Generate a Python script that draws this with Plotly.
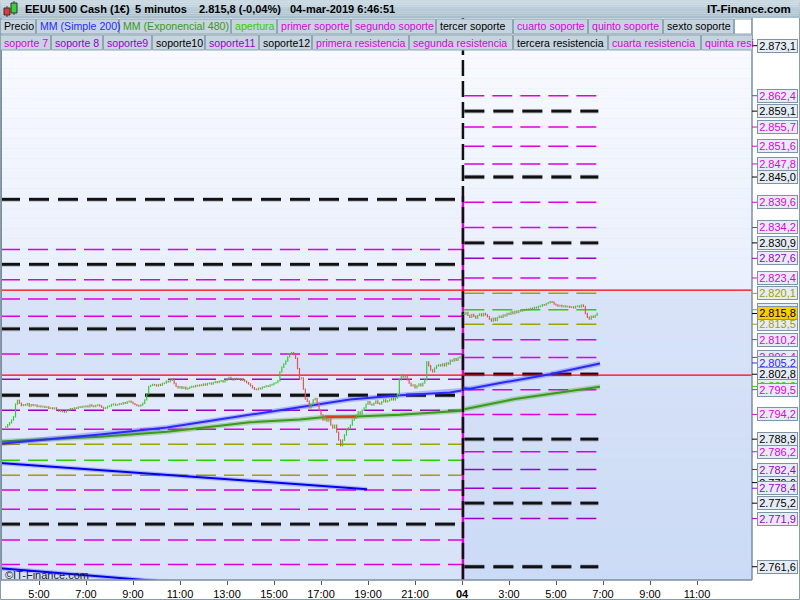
import plotly.graph_objects as go

# ---------------- data ----------------
DAY3_FIRST_BAR_HOUR = 3 + 35 / 60
DAY4_FIRST_BAR_HOUR = 1 + 5 / 60
BAR_HOURS = 5 / 60
DAY4_OFFSET = 22  # day-4 hour h is drawn at h + 22 (session gap compressed)

close_day3 = [
    2791.5, 2792.0, 2792.4, 2793.0, 2793.7, 2796.4, 2797.2, 2796.6, 2796.1, 2796.3,
    2796.2, 2796.5, 2796.0, 2796.3, 2796.1, 2796.2, 2795.9, 2796.0, 2795.8, 2795.9,
    2795.7, 2795.8, 2795.5, 2795.6, 2795.4, 2795.6, 2795.2, 2794.9, 2795.0, 2794.8,
    2794.7, 2795.0, 2795.2, 2795.4, 2795.3, 2795.6, 2795.5, 2795.8, 2795.7, 2795.9,
    2795.8, 2796.0, 2795.8, 2796.2, 2796.0, 2795.9, 2796.1, 2796.2, 2796.0, 2795.7,
    2795.5, 2795.6, 2795.9, 2796.0, 2796.3, 2796.4, 2796.2, 2796.3, 2796.5, 2796.4,
    2796.7, 2796.6, 2796.9, 2797.0, 2796.8, 2796.5, 2796.3, 2796.1, 2796.0, 2796.2,
    2796.6, 2797.3, 2798.6, 2800.2, 2800.4, 2800.6, 2800.5, 2800.3, 2800.6, 2800.4,
    2800.8, 2800.9, 2801.3, 2801.2, 2801.5, 2801.8, 2800.8, 2800.2, 2799.9, 2800.1,
    2799.8, 2800.0, 2799.6, 2799.8, 2800.0, 2800.2, 2800.1, 2800.4, 2800.3, 2800.5,
    2800.4, 2800.7, 2800.5, 2800.8, 2800.9, 2800.7, 2801.0, 2801.2, 2801.0, 2801.3,
    2801.4, 2801.2, 2801.5, 2801.7, 2802.1, 2801.8, 2801.6, 2801.9, 2801.7, 2801.8,
    2801.5, 2801.6, 2801.3, 2801.0, 2800.7, 2800.3, 2799.9, 2799.6, 2799.5, 2799.8,
    2799.7, 2800.0, 2800.1, 2800.3, 2800.2, 2800.5, 2800.6, 2800.9, 2801.0, 2801.4,
    2803.3, 2804.3, 2805.0, 2805.6, 2806.5, 2807.2, 2807.4, 2807.0, 2806.2, 2804.0,
    2801.8, 2802.0, 2799.6, 2797.5, 2797.0, 2795.6, 2796.3, 2797.3, 2797.6, 2796.6,
    2795.1, 2794.1, 2793.0, 2793.6, 2792.8, 2793.2, 2791.9, 2791.3, 2791.9, 2790.4,
    2788.7, 2787.5, 2788.7, 2789.8, 2790.9, 2791.3, 2791.9, 2793.0, 2793.4, 2794.1,
    2794.7, 2794.3, 2795.1, 2795.6, 2796.4, 2796.9, 2796.4, 2796.2, 2796.6, 2797.1,
    2796.6, 2796.4, 2796.9, 2797.3, 2796.9, 2797.1, 2797.3, 2797.7, 2797.3, 2797.7,
    2798.4, 2801.6, 2802.6, 2802.2, 2802.4, 2801.6, 2800.9, 2800.3, 2800.5, 2799.9,
    2800.3, 2800.7, 2800.3, 2800.9, 2801.6, 2805.4, 2804.6, 2803.7, 2803.3, 2804.1,
    2804.6, 2804.8, 2804.6, 2805.0, 2804.6, 2805.2, 2805.0, 2805.8, 2805.6, 2806.1,
    2805.8, 2806.3, 2806.5,
]

close_day4 = [
    2815.6, 2816.0, 2815.4, 2815.0, 2815.6, 2815.2, 2814.8, 2815.4, 2815.7, 2815.3,
    2815.8, 2815.5, 2815.1, 2814.6, 2814.2, 2814.8, 2814.3, 2814.9, 2815.2, 2815.0,
    2815.5, 2815.3, 2815.8, 2815.6, 2816.1, 2815.8, 2816.3, 2816.0, 2816.4, 2816.3,
    2816.6, 2816.5, 2816.7, 2816.6, 2816.9, 2816.8, 2817.1, 2817.0, 2817.3, 2817.4,
    2817.7, 2817.6, 2817.9, 2818.1, 2818.3, 2818.2, 2817.8, 2817.6, 2817.4, 2817.5,
    2817.3, 2817.4, 2817.2, 2817.3, 2817.1, 2817.2, 2817.0, 2817.3, 2817.4, 2817.2,
    2817.6, 2817.3, 2815.8, 2815.0, 2814.6, 2815.2, 2815.0, 2815.4, 2815.8,
]

# moving averages (hour of day, value)
sma200_hours_d3 = [3.3, 7.6, 10.45, 13.98, 16.1, 18.23, 20.36, 22.49, 22.98]
sma200_vals_d3 = [2787.9, 2789.9, 2791.4, 2794.1, 2795.8, 2797.4, 2798.3, 2798.9, 2799.3]
sma200_hours_d4 = [1.05, 1.34, 2.62, 4.74, 6.87]
sma200_vals_d4 = [2799.8, 2799.7, 2800.9, 2802.8, 2805.1]

ema480_hours_d3 = [3.3, 7.6, 10.45, 13.98, 16.1, 17.08, 18.23, 20.36, 22.49, 22.98]
ema480_vals_d3 = [2788.4, 2789.4, 2790.5, 2792.5, 2793.1, 2793.6, 2793.7, 2794.1, 2794.8, 2795.0]
ema480_hours_d4 = [1.1, 3.25, 6.87]
ema480_vals_d4 = [2795.3, 2797.5, 2800.1]
ema_red_hours = [17.15, 18.55]
ema_red_vals = [2793.7, 2793.7]

# drawn trend lines (hour on day 3, value)
trend1_hours = [3.3, 18.96]
trend1_vals = [2783.8, 2778.2]
trend2_hours = [3.3, 10.6]
trend2_vals = [2761.3, 2758.3]

# red horizontal lines
red_levels = [2820.8, 2802.6]

# support / resistance levels: (value, kind)
levels_day3 = [
    (2840.2, "k"), (2829.5, "m"), (2826.3, "k"), (2823.0, "m"), (2818.9, "m"),
    (2815.2, "m"), (2812.5, "k"), (2807.1, "m"), (2801.7, "p"), (2798.3, "k"),
    (2795.1, "p"), (2791.0, "m"), (2787.8, "o"), (2784.4, "g"), (2781.2, "o"),
    (2778.0, "m"), (2773.9, "m"), (2770.7, "k"), (2767.3, "m"), (2762.1, "m"),
]
levels_day4 = [
    (2873.1, "k"), (2862.4, "m"), (2859.1, "k"), (2855.7, "m"), (2851.6, "m"),
    (2847.8, "m"), (2845.0, "k"), (2839.6, "m"), (2834.2, "m"), (2830.9, "k"),
    (2827.6, "p"), (2823.4, "m"), (2820.1, "o"), (2816.6, "g"), (2813.5, "o"),
    (2810.2, "m"), (2806.4, "m"), (2802.8, "k"), (2799.5, "m"), (2794.2, "m"),
    (2788.9, "k"), (2786.2, "m"), (2782.4, "p"), (2778.4, "p"), (2775.2, "k"),
    (2771.9, "p"), (2761.6, "k"),
]

# right-axis value labels: (value, kind) ; drawn in order (later on top)
axis_labels = [
    (2873.1, "k"), (2862.4, "m"), (2859.1, "k"), (2855.7, "m"), (2851.6, "m"),
    (2847.8, "m"), (2845.0, "k"), (2839.6, "m"), (2834.2, "m"), (2830.9, "k"),
    (2827.6, "p"), (2823.4, "m"), (2820.1, "o"), (2816.6, "g"), (2813.5, "o"),
    (2810.2, "m"), (2806.4, "m"), (2805.2, "b"), (2802.8, "k"), (2800.2, "g"),
    (2799.5, "m"), (2794.2, "m"), (2788.9, "k"), (2786.2, "m"), (2779.6, "k"),
    (2782.4, "p"), (2778.4, "p"), (2775.2, "k"), (2771.9, "p"), (2761.6, "k"),
]
last_price = 2815.8

tick_vals = [5, 7, 9, 11, 13, 15, 17, 19, 21, 23, 25, 27, 29, 31, 33]
tick_text = ["5:00", "7:00", "9:00", "11:00", "13:00", "15:00", "17:00", "19:00",
             "21:00", "<b>04</b>", "3:00", "5:00", "7:00", "9:00", "11:00"]

legend_row1 = [("Precio", "k"), ("MM (Simple 200)", "b"), ("MM (Exponencial 480)", "e"),
               ("apertura", "g"), ("primer soporte", "m"), ("segundo soporte", "m"),
               ("tercer soporte", "k"), ("cuarto soporte", "m"), ("quinto soporte", "m"),
               ("sexto soporte", "k"), ("", "w")]
legend_row2 = [("soporte 7", "m"), ("soporte 8", "p"), ("soporte9", "p"), ("soporte10", "k"),
               ("soporte11", "p"), ("soporte12", "k"), ("primera resistencia", "m"),
               ("segunda resistencia", "m"), ("tercera resistencia", "k"),
               ("cuarta resistencia", "m"), ("quinta resi", "m")]

title_parts = ["EEUU 500 Cash (1€)", "5 minutos", "2.815,8 (-0,04%)", "04-mar-2019 6:46:51"]
brand = "IT-Finance.com"
copyright_text = "©IT-Finance.com"

# ---------------- layout / style ----------------
COL = {"k": "#000000", "m": "#dd00dd", "p": "#9a00c8", "o": "#a0a000", "g": "#33cc00",
       "b": "#2a2aff", "e": "#3a9a1a", "w": "#ffffff"}
legend_edges1 = [0, 36, 119, 231, 277, 351, 436, 513, 588, 663, 734, 752]
legend_edges2 = [0, 51, 103, 152, 205, 259, 312, 409, 513, 608, 701, 753]
title_x = [23, 133, 197, 288]

W_PLOT, TOP, BOT = 752, 18, 580
X_RANGE = [3.3404, 35.3404]
Y_RANGE = [2758.76, 2879.03]
T_SEP = 23.04
T_END4 = 28.8
FONT = "Liberation Sans"


def px(x):
    return x / W_PLOT


def py(y):
    return (BOT - y) / (BOT - TOP)


def fmt(v):
    s = f"{v:,.1f}"
    return s.replace(",", "X").replace(".", ",").replace("X", ".")


def lerp_col(c1, c2, f):
    return "rgb(%d,%d,%d)" % tuple(round(a + (b - a) * f) for a, b in zip(c1, c2))


fig = go.Figure()


def add_level(x0, x1, v, kind):
    if kind == "k":
        fig.add_trace(go.Scatter(x=[x0, x1], y=[v, v], mode="lines",
                                 line=dict(color="rgba(60,60,60,0.3)", width=4.5, dash="20px,9px"),
                                 hoverinfo="skip", showlegend=False))
        fig.add_trace(go.Scatter(x=[x0, x1], y=[v, v], mode="lines",
                                 line=dict(color="#111111", width=2.8, dash="20px,9px"),
                                 hoverinfo="skip", showlegend=False))
    else:
        fig.add_trace(go.Scatter(x=[x0, x1], y=[v, v], mode="lines",
                                 line=dict(color=COL[kind], width=1.5, dash="20px,8px"),
                                 hoverinfo="skip", showlegend=False))


for v, k in levels_day3:
    add_level(X_RANGE[0], T_SEP, v, k)
for v, k in levels_day4:
    add_level(T_SEP + 0.06, T_END4, v, k)

# separator (level jumps at the session change)
fig.add_trace(go.Scatter(x=[T_SEP, T_SEP], y=[2841, Y_RANGE[0]], mode="lines",
                         line=dict(color="#dd00dd", width=2.5), hoverinfo="skip", showlegend=False))
fig.add_trace(go.Scatter(x=[T_SEP, T_SEP], y=[Y_RANGE[1], Y_RANGE[0]], mode="lines",
                         line=dict(color="#111111", width=2.5, dash="16px,5px"),
                         hoverinfo="skip", showlegend=False))

# red lines
for v in red_levels:
    fig.add_trace(go.Scatter(x=X_RANGE, y=[v, v], mode="lines",
                             line=dict(color="#ff0000", width=1.3), hoverinfo="skip", showlegend=False))

# trend lines
for hs, vs in [(trend1_hours, trend1_vals), (trend2_hours, trend2_vals)]:
    fig.add_trace(go.Scatter(x=hs, y=vs, mode="lines", line=dict(color="rgba(40,40,255,0.25)", width=4.5),
                             hoverinfo="skip", showlegend=False))
    fig.add_trace(go.Scatter(x=hs, y=vs, mode="lines", line=dict(color="#0000ee", width=2),
                             hoverinfo="skip", showlegend=False))

# moving averages
for hs, vs, halo, col in [
    (ema480_hours_d3, ema480_vals_d3, "rgba(60,160,30,0.3)", "#3a9a1a"),
    ([h + DAY4_OFFSET for h in ema480_hours_d4], ema480_vals_d4, "rgba(60,160,30,0.3)", "#3a9a1a"),
    (sma200_hours_d3, sma200_vals_d3, "rgba(60,60,255,0.3)", "#2a2aff"),
    ([h + DAY4_OFFSET for h in sma200_hours_d4], sma200_vals_d4, "rgba(60,60,255,0.3)", "#2a2aff"),
]:
    fig.add_trace(go.Scatter(x=hs, y=vs, mode="lines", line=dict(color=halo, width=5),
                             hoverinfo="skip", showlegend=False))
    fig.add_trace(go.Scatter(x=hs, y=vs, mode="lines", line=dict(color=col, width=2),
                             hoverinfo="skip", showlegend=False))
fig.add_trace(go.Scatter(x=ema_red_hours, y=ema_red_vals, mode="lines",
                         line=dict(color="rgba(255,40,40,0.8)", width=3), hoverinfo="skip", showlegend=False))

# price bars (previous close -> close)
up_x, up_y, dn_x, dn_y = [], [], [], []
for closes, start, off in [(close_day3, DAY3_FIRST_BAR_HOUR, 0), (close_day4, DAY4_FIRST_BAR_HOUR, DAY4_OFFSET)]:
    prev = closes[0]
    for i, c in enumerate(closes):
        t = start + i * BAR_HOURS + off
        if c >= prev:
            up_x += [t, t, None]
            up_y += [prev - 0.15, c + 0.15, None]
        else:
            dn_x += [t, t, None]
            dn_y += [prev + 0.15, c - 0.15, None]
        prev = c
fig.add_trace(go.Scatter(x=up_x, y=up_y, mode="lines", line=dict(color="#33cc33", width=1.2),
                         hoverinfo="skip", showlegend=False))
fig.add_trace(go.Scatter(x=dn_x, y=dn_y, mode="lines", line=dict(color="#dd5555", width=1.2),
                         hoverinfo="skip", showlegend=False))

shapes = []
annotations = []

# background gradient
N = 56
top_c, bot_c = (250, 251, 255), (214, 226, 248)
for k in range(N):
    shapes.append(dict(type="rect", xref="paper", yref="paper", x0=0, x1=1,
                       y0=1 - (k + 1) / N, y1=1 - k / N, layer="below", line_width=0,
                       fillcolor=lerp_col(top_c, bot_c, (k + 0.5) / N)))
# range shading
shapes.append(dict(type="rect", xref="x", yref="y", x0=X_RANGE[0], x1=T_SEP, y0=red_levels[1], y1=red_levels[0],
                   layer="below", line_width=0, fillcolor="rgba(170,195,240,0.25)"))
shapes.append(dict(type="rect", xref="x", yref="y", x0=T_SEP, x1=X_RANGE[1], y0=Y_RANGE[0], y1=red_levels[0],
                   layer="below", line_width=0, fillcolor="rgba(170,195,240,0.25)"))

# frame
shapes.append(dict(type="line", xref="paper", yref="paper", x0=px(1), x1=px(1), y0=0, y1=1,
                   line=dict(color="#7d8ea0", width=2), layer="above"))
shapes.append(dict(type="line", xref="paper", yref="paper", x0=1, x1=1, y0=0, y1=1,
                   line=dict(color="#7d8ea0", width=1.5), layer="above"))
shapes.append(dict(type="line", xref="paper", yref="paper", x0=0, x1=1, y0=0, y1=0,
                   line=dict(color="#7d8ea0", width=1.5), layer="above"))
shapes.append(dict(type="rect", xref="paper", yref="paper", x0=px(0.5), x1=px(799.5), y0=py(599.5), y1=py(0.5),
                   line=dict(color="#8a9aab", width=1), layer="above"))

# title bar
NB = 8
for k in range(NB):
    shapes.append(dict(type="rect", xref="paper", yref="paper", x0=px(0), x1=px(800),
                       y0=py(18 * (k + 1) / NB), y1=py(18 * k / NB), line_width=0, layer="above",
                       fillcolor=lerp_col((204, 219, 228), (166, 189, 203), (k + 0.5) / NB)))
# icon
shapes += [
    dict(type="line", xref="paper", yref="paper", x0=px(7), x1=px(7), y0=py(17), y1=py(6),
         line=dict(color="#444", width=1), layer="above"),
    dict(type="rect", xref="paper", yref="paper", x0=px(4), x1=px(10), y0=py(15), y1=py(8),
         fillcolor="#e23a3a", line=dict(color="#333", width=1), layer="above"),
    dict(type="line", xref="paper", yref="paper", x0=px(14), x1=px(14), y0=py(15), y1=py(1),
         line=dict(color="#444", width=1), layer="above"),
    dict(type="rect", xref="paper", yref="paper", x0=px(11), x1=px(17), y0=py(13), y1=py(3),
         fillcolor="#3ccf3c", line=dict(color="#333", width=1), layer="above"),
]
for txt, x in zip(title_parts, title_x):
    annotations.append(dict(text=f"<b>{txt}</b>", xref="paper", yref="paper", x=px(x), y=py(9),
                            xanchor="left", yanchor="middle", showarrow=False,
                            font=dict(family=FONT, size=11, color="#000")))
annotations.append(dict(text=f"<b>{brand}</b>", xref="paper", yref="paper", x=px(793), y=py(9),
                        xanchor="right", yanchor="middle", showarrow=False,
                        font=dict(family=FONT, size=11.5, color="#000")))

# legend rows
for row, edges, y0, y1 in [(legend_row1, legend_edges1, 19, 34), (legend_row2, legend_edges2, 35, 50)]:
    for (txt, kind), a, b in zip(row, edges[:-1], edges[1:]):
        fill = "#ffffff" if kind == "w" else "#c5d4de"
        shapes.append(dict(type="rect", xref="paper", yref="paper", x0=px(a + 0.5), x1=px(b - 0.5),
                           y0=py(y1), y1=py(y0), fillcolor=fill, line=dict(color="#91a5b4", width=1),
                           layer="above"))
        if txt:
            annotations.append(dict(text=txt, xref="paper", yref="paper", x=px(a + 2), y=py((y0 + y1) / 2),
                                    xanchor="left", yanchor="middle", showarrow=False,
                                    font=dict(family=FONT, size=10.6, color=COL[kind])))
# white strip right of legend row 1
shapes.append(dict(type="rect", xref="paper", yref="paper", x0=px(753), x1=px(799), y0=py(34), y1=py(18),
                   fillcolor="#ffffff", line_width=0, layer="above"))

# right axis labels
for v, kind in axis_labels + [(last_price, "price")]:
    col = "#000000" if kind == "price" else COL[kind]
    bg = "#ffcc00" if kind == "price" else "#e6ecf3"
    shapes.append(dict(type="line", xref="paper", yref="y", x0=1, x1=px(757), y0=v, y1=v,
                       line=dict(color=col, width=1)))
    annotations.append(dict(text=fmt(v), xref="paper", yref="y", x=px(757), y=v, xanchor="left",
                            yanchor="middle", showarrow=False, bgcolor=bg, bordercolor="#7f93a6",
                            borderwidth=1, borderpad=0, width=39, height=12, align="center",
                            font=dict(family=FONT, size=11, color=col)))

annotations.append(dict(text=copyright_text, xref="paper", yref="paper", x=px(3), y=py(575),
                        xanchor="left", yanchor="middle", showarrow=False,
                        font=dict(family=FONT, size=11, color="#222")))

fig.update_layout(
    width=800, height=600,
    margin=dict(l=0, r=800 - W_PLOT, t=TOP, b=600 - BOT, autoexpand=False),
    paper_bgcolor="#ffffff", plot_bgcolor="#d8e3f8",
    shapes=shapes, annotations=annotations, showlegend=False,
    xaxis=dict(range=X_RANGE, tickvals=tick_vals, ticktext=tick_text, ticks="outside", ticklen=4,
               tickcolor="#555", showgrid=False, zeroline=False, showline=False,
               tickfont=dict(family=FONT, size=11, color="#000")),
    yaxis=dict(range=Y_RANGE, showticklabels=False, ticks="", showgrid=False, zeroline=False),
)

fig.write_html("out.html", config={"displayModeBar": False},
               post_script="document.body.style.margin='0';document.body.style.overflow='hidden';")
